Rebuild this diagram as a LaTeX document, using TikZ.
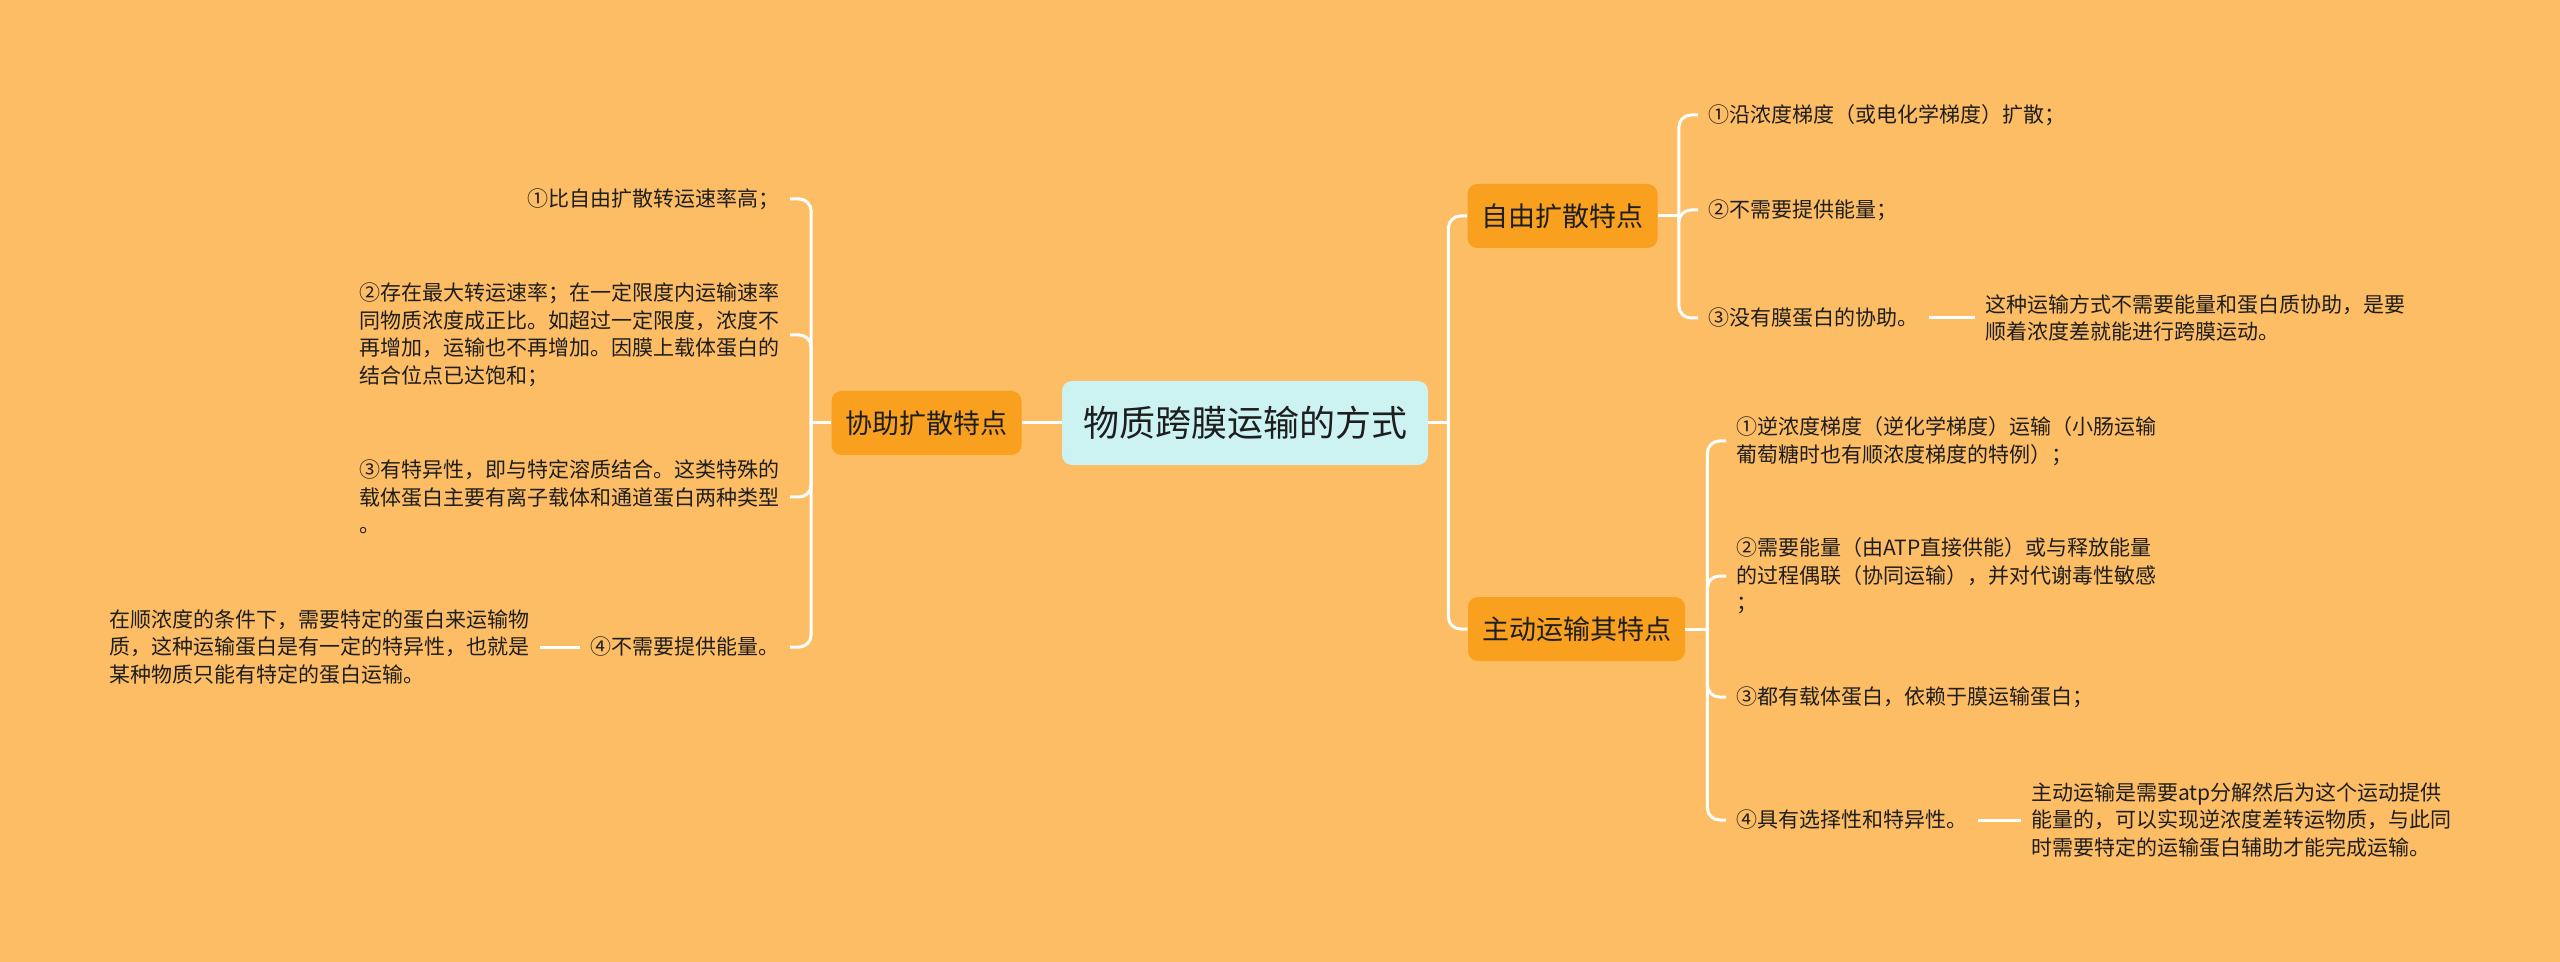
\documentclass[tikz,border=0pt]{standalone}
\usepackage{fontspec}
\setmainfont{Noto Sans CJK SC}
\usetikzlibrary{positioning}
\definecolor{bgcol}{HTML}{FDBD65}
\definecolor{boxcol}{HTML}{F9A01E}
\definecolor{rootcol}{HTML}{CCF3F1}
\definecolor{inkcol}{HTML}{1E1E1E}
\tikzset{
  topic/.style={
    rectangle,
    fill=rootcol,
    rounded corners=5pt,
    minimum height=42pt,
    inner xsep=10.5pt,
    text=inkcol,
    font=\fontsize{18pt}{22pt}\selectfont
  },
  branch/.style={
    rectangle,
    fill=boxcol,
    rounded corners=5pt,
    minimum height=32pt,
    inner xsep=7pt,
    text=inkcol,
    font=\fontsize{13.5pt}{16pt}\selectfont
  },
  leaf/.style={
    align=left,
    inner xsep=5pt,
    inner ysep=2pt,
    text=inkcol,
    font=\fontsize{10.5pt}{13.75pt}\selectfont
  },
  link/.style={draw=white,line width=1.5pt,rounded corners=6pt}
}

\begin{document}
\begin{tikzpicture}[x=0.5pt,y=-0.5pt]
\fill[bgcol] (0,0) rectangle (2560,962);

\node[topic] (root) at (1245,423) {物质跨膜运输的方式};
\node[branch] (xz) at (926.5,423) {协助扩散特点};
\node[branch] (zy) at (1562.5,216) {自由扩散特点};
\node[branch] (zd) at (1576.5,629) {主动运输其特点};

% left: 协助扩散
\node[leaf, anchor=east] (xz1) at (790,199) {①比自由扩散转运速率高；};
\node[leaf, anchor=east] (xz2) at (790,335) {②存在最大转运速率；在一定限度内运输速率\\同物质浓度成正比。如超过一定限度，浓度不\\再增加，运输也不再增加。因膜上载体蛋白的\\结合位点已达饱和；};
\node[leaf, anchor=east] (xz3) at (790,497) {③有特异性，即与特定溶质结合。这类特殊的\\载体蛋白主要有离子载体和通道蛋白两种类型\\。};
\node[leaf, anchor=east] (xz4) at (790,647) {④不需要提供能量。};
\node[leaf, left=20pt of xz4] (xz4n) {在顺浓度的条件下，需要特定的蛋白来运输物\\质，这种运输蛋白是有一定的特异性，也就是\\某种物质只能有特定的蛋白运输。};

% right: 自由扩散
\node[leaf, anchor=west] (zy1) at (1698,115) {①沿浓度梯度（或电化学梯度）扩散；};
\node[leaf, anchor=west] (zy2) at (1698,210) {②不需要提供能量；};
\node[leaf, anchor=west] (zy3) at (1698,318) {③没有膜蛋白的协助。};
\node[leaf, right=23pt of zy3] (zy3n) {这种运输方式不需要能量和蛋白质协助，是要\\顺着浓度差就能进行跨膜运动。};

% right: 主动运输
\node[leaf, anchor=west] (zd1) at (1726,441) {①逆浓度梯度（逆化学梯度）运输（小肠运输\\葡萄糖时也有顺浓度梯度的特例）；};
\node[leaf, anchor=west] (zd2) at (1726,576) {②需要能量（由ATP直接供能）或与释放能量\\的过程偶联（协同运输），并对代谢毒性敏感\\；};
\node[leaf, anchor=west] (zd3) at (1726,697) {③都有载体蛋白，依赖于膜运输蛋白；};
\node[leaf, anchor=west] (zd4) at (1726,820) {④具有选择性和特异性。};
\node[leaf, right=21.5pt of zd4] (zd4n) {主动运输是需要atp分解然后为这个运动提供\\能量的，可以实现逆浓度差转运物质，与此同\\时需要特定的运输蛋白辅助才能完成运输。};

\coordinate (rootR) at ([xshift=10pt]root.east);
\coordinate (xzL) at ([xshift=-10pt]xz.west);
\coordinate (zyR) at ([xshift=10.5pt]zy.east);
\coordinate (zdR) at ([xshift=11pt]zd.east);

\draw[link] (root.west) -- (xz.east);
\draw[link] (root.east) -- (rootR);
\draw[link] (rootR) |- (zy.west);
\draw[link] (rootR) |- (zd.west);

\draw[link] (xz.west) -- (xzL);
\foreach \k in {1,...,4}
  \draw[link] (xzL) |- (xz\k.east);
\draw[link] (xz4.west) -- (xz4n.east);

\draw[link] (zy.east) -- (zyR);
\foreach \k in {1,...,3}
  \draw[link] (zyR) |- (zy\k.west);
\draw[link] (zy3.east) -- (zy3n.west);

\draw[link] (zd.east) -- (zdR);
\foreach \k in {1,...,4}
  \draw[link] (zdR) |- (zd\k.west);
\draw[link] (zd4.east) -- (zd4n.west);
\end{tikzpicture}
\end{document}
